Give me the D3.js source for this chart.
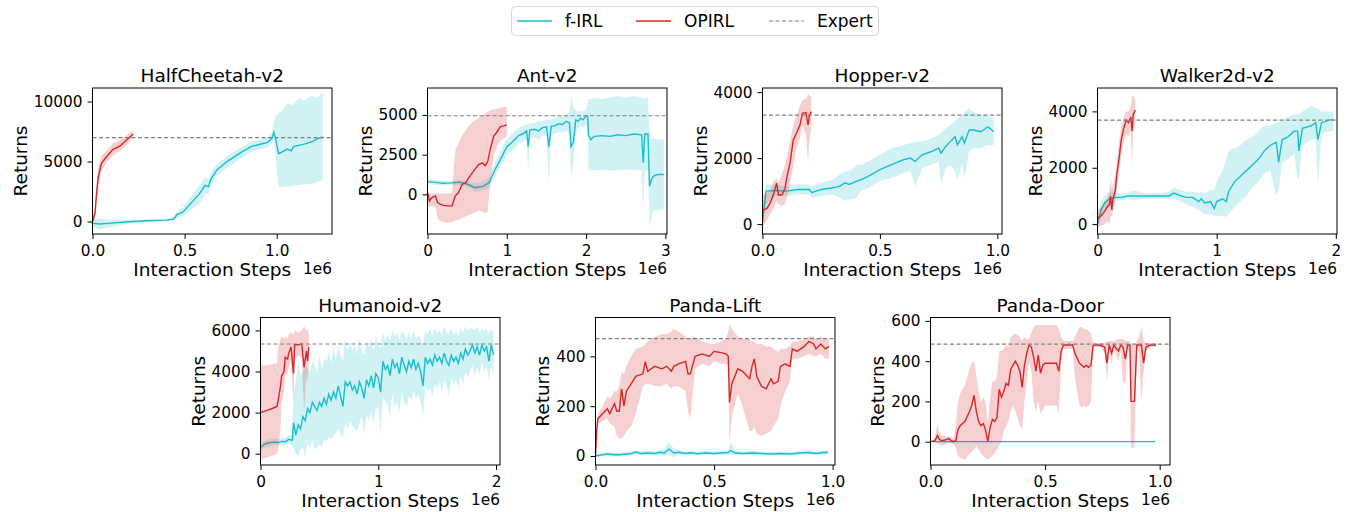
<!DOCTYPE html>
<html>
<head>
<meta charset="utf-8">
<script src="https://cdn.jsdelivr.net/npm/d3@7"></script>
<style>
  body { margin: 0; background: #fff; }
  text { font-family: "DejaVu Sans", sans-serif; fill: #000; }
</style>
</head>
<body>
<script>
// ---- data (x in units of 1e6 interaction steps) ----
const envNames = ["HalfCheetah-v2", "Ant-v2", "Hopper-v2", "Walker2d-v2", "Humanoid-v2", "Panda-Lift", "Panda-Door"];
const expertReturns = [7000, 4950, 3300, 3690, 5340, 471, 485];
const xLimits = [1.30, 3.02, 1.02, 2.01, 2.034, 1.01, 1.045];
const yLimits = [[-1040, 11130], [-2500, 6700], [-300, 4125], [-350, 4830], [-550, 6630], [-36, 556], [-116, 617]];
const xTickValues = [[0, 0.5, 1.0], [0, 1, 2, 3], [0, 0.5, 1.0], [0, 1, 2], [0, 1, 2], [0, 0.5, 1.0], [0, 0.5, 1.0]];
const xTickLabels = [["0.0", "0.5", "1.0"], ["0", "1", "2", "3"], ["0.0", "0.5", "1.0"], ["0", "1", "2"], ["0", "1", "2"], ["0.0", "0.5", "1.0"], ["0.0", "0.5", "1.0"]];
const yTickValues = [[0, 5000, 10000], [0, 2500, 5000], [0, 2000, 4000], [0, 2000, 4000], [0, 2000, 4000, 6000], [0, 200, 400], [0, 200, 400, 600]];

// rows: [step (1e6), mean, lower, upper]
const cheetahFirl = [
  [0, -150, -500, 250], [0.04, -200, -650, 200], [0.1, -130, -450, 150], [0.2, -20, -150, 120],
  [0.3, 60, -50, 160], [0.4, 120, 20, 220], [0.44, 200, 80, 380], [0.46, 600, 300, 900],
  [0.49, 780, 450, 1150], [0.53, 1450, 900, 2000], [0.58, 2300, 1500, 3000], [0.61, 3000, 2300, 3700],
  [0.63, 2900, 2300, 3500], [0.64, 3450, 2900, 4000], [0.675, 4300, 3800, 4800], [0.73, 5000, 4500, 5450],
  [0.8, 5700, 5200, 6100], [0.86, 6250, 5800, 6650], [0.9, 6400, 6000, 6800], [0.95, 6600, 6200, 7050],
  [0.975, 6950, 6500, 7400], [0.984, 7450, 6900, 8300], [0.995, 6850, 5200, 8800], [1.01, 5650, 2850, 9000],
  [1.03, 5800, 2900, 9200], [1.056, 6050, 2950, 9900], [1.08, 5900, 2950, 9700], [1.09, 6250, 3000, 9800],
  [1.12, 6350, 3050, 10300], [1.15, 6450, 3100, 10100], [1.19, 6650, 3150, 10500], [1.22, 6900, 3300, 10300],
  [1.25, 7050, 3450, 10750]
];
const cheetahOpirl = [
  [0, 0, -300, 300], [0.013, 650, 200, 1100], [0.022, 2300, 1500, 3100], [0.031, 3700, 2900, 4500],
  [0.049, 4850, 4200, 5500], [0.076, 5400, 4900, 5900], [0.11, 6000, 5500, 6500], [0.15, 6300, 5900, 6800],
  [0.185, 6800, 6400, 7200], [0.221, 7300, 7000, 7600]
];

const antFirl = [
  [0, 800, 650, 950], [0.1, 750, 600, 900], [0.2, 700, 550, 850], [0.3, 720, 600, 850],
  [0.4, 770, 600, 900], [0.5, 650, 450, 850], [0.6, 420, 200, 700], [0.7, 500, 250, 800],
  [0.78, 750, 400, 1100], [0.85, 1550, 1100, 2000], [0.9, 2000, 1600, 2500], [0.95, 2500, 2000, 3000],
  [1.0, 3000, 2500, 3500], [1.05, 3200, 2700, 3700], [1.1, 3450, 2900, 4000], [1.15, 3700, 3200, 4200],
  [1.2, 3800, 3300, 4300], [1.25, 4000, 3500, 4400], [1.27, 3000, 1400, 4400], [1.29, 4050, 3500, 4500],
  [1.35, 4100, 3600, 4500], [1.4, 4000, 3400, 4600], [1.45, 4200, 3700, 4600], [1.5, 4250, 3700, 4700],
  [1.53, 3000, 700, 4700], [1.56, 4300, 3800, 4700], [1.6, 4300, 3800, 4800], [1.65, 4450, 3900, 4900],
  [1.7, 4400, 3900, 4900], [1.75, 4600, 4000, 5000], [1.79, 4500, 3800, 5200], [1.81, 3000, 1000, 6200],
  [1.84, 3300, 2000, 5500], [1.87, 4700, 4000, 5300], [1.9, 4600, 4100, 5200], [1.93, 4800, 4300, 5300],
  [1.96, 4700, 4200, 5200], [2.0, 4950, 4400, 5400], [2.02, 4900, 4000, 5800], [2.03, 3700, 1500, 6000],
  [2.06, 3450, 1500, 6000], [2.1, 3650, 1500, 6100], [2.2, 3700, 1550, 6000], [2.3, 3650, 1500, 6100],
  [2.4, 3750, 1500, 6200], [2.5, 3700, 1550, 6100], [2.6, 3800, 1550, 6200], [2.7, 3750, 1500, 6100],
  [2.72, 2000, -1200, 6000], [2.74, 3800, 1500, 6100], [2.78, 3800, 1500, 6100], [2.8, 500, -2100, 4000],
  [2.82, 900, -1500, 3500], [2.85, 1150, -1000, 3500], [2.9, 1250, -1000, 3450], [2.95, 1250, -950, 3450],
  [2.98, 1250, -950, 3450]
];
const antOpirl = [
  [0, 100, -700, 150], [0.025, -420, -800, 50], [0.055, -210, -750, 50], [0.1, -100, -800, 50],
  [0.127, -520, -1500, 50], [0.16, -620, -1700, 50], [0.2, -700, -1750, 50], [0.245, -730, -1800, 50],
  [0.31, -730, -1750, 100], [0.33, -400, -1700, 1500], [0.35, -100, -1650, 2800], [0.39, 100, -1600, 3200],
  [0.435, 620, -1500, 3700], [0.48, 730, -1400, 4000], [0.52, 1040, -1300, 4300], [0.58, 1460, -1200, 4600],
  [0.645, 1870, -1000, 4800], [0.69, 1980, -1100, 5000], [0.73, 1810, -1200, 5100], [0.76, 2080, -1100, 5200],
  [0.79, 2810, 800, 5300], [0.835, 3650, 2400, 5350], [0.88, 3960, 3100, 5400], [0.92, 4270, 3400, 5450],
  [0.96, 4310, 3500, 5500], [1.0, 4375, 3600, 5500]
];

const hopperFirl = [
  [0, 50, -100, 400], [0.015, 1000, 600, 1200], [0.05, 1020, 850, 1200], [0.1, 1000, 850, 1150],
  [0.15, 1050, 900, 1200], [0.2, 1050, 900, 1200], [0.21, 950, 800, 1150], [0.25, 1050, 850, 1250],
  [0.3, 1100, 900, 1350], [0.33, 1150, 800, 1500], [0.35, 1250, 700, 1600], [0.37, 1200, 750, 1600],
  [0.4, 1300, 800, 1800], [0.42, 1350, 1000, 1800], [0.45, 1450, 1100, 1900], [0.5, 1650, 1300, 2100],
  [0.55, 1800, 1400, 2300], [0.6, 1950, 1550, 2400], [0.63, 2000, 1600, 2450], [0.65, 1900, 1150, 2500],
  [0.68, 2100, 1700, 2500], [0.72, 2200, 1800, 2600], [0.75, 2300, 1900, 2700], [0.76, 2150, 1200, 2750],
  [0.78, 2350, 1700, 2900], [0.8, 2500, 1800, 3000], [0.82, 2650, 1600, 3100], [0.83, 2400, 1350, 3200],
  [0.85, 2650, 1800, 3300], [0.86, 2450, 1400, 3400], [0.88, 2850, 2200, 3500], [0.9, 2850, 2300, 3400],
  [0.93, 2800, 2300, 3300], [0.96, 2950, 2400, 3300], [0.985, 2800, 2400, 3200]
];
const hopperOpirl = [
  [0, 420, -100, 900], [0.018, 470, 100, 950], [0.032, 630, 300, 1000], [0.046, 880, 450, 1300],
  [0.06, 1240, 700, 1400], [0.068, 880, 600, 1250], [0.082, 880, 550, 1500], [0.096, 1080, 600, 1800],
  [0.103, 1390, 800, 2000], [0.117, 1840, 1200, 2500], [0.131, 2550, 1800, 3000], [0.145, 2760, 2300, 3300],
  [0.16, 3010, 2600, 3600], [0.17, 3360, 3000, 3750], [0.185, 3380, 2700, 3800], [0.194, 3010, 1900, 3950],
  [0.2, 3310, 2500, 3900], [0.208, 3410, 3000, 3850]
];

const walkerFirl = [
  [0, 0, -200, 300], [0.03, 500, 200, 800], [0.06, 750, 500, 1000], [0.1, 900, 700, 1150],
  [0.15, 950, 800, 1100], [0.2, 950, 850, 1100], [0.25, 1000, 900, 1100], [0.3, 1000, 850, 1200],
  [0.4, 1000, 900, 1100], [0.5, 1000, 900, 1100], [0.6, 1000, 900, 1150], [0.64, 1100, 900, 1300],
  [0.7, 1000, 800, 1200], [0.75, 950, 700, 1150], [0.8, 950, 600, 1150], [0.85, 800, 500, 1100],
  [0.87, 900, 450, 1150], [0.9, 750, 350, 1100], [0.95, 800, 350, 1200], [0.98, 550, 300, 1200],
  [1.0, 800, 300, 1500], [1.05, 900, 300, 1900], [1.08, 800, 250, 2300], [1.1, 1150, 350, 2600],
  [1.15, 1500, 600, 2700], [1.2, 1700, 800, 2800], [1.25, 1900, 1000, 3000], [1.3, 2100, 1300, 3100],
  [1.35, 2300, 1500, 3300], [1.4, 2600, 1800, 3500], [1.45, 2800, 1900, 3500], [1.5, 2900, 1000, 3600],
  [1.52, 2200, 1200, 3600], [1.55, 3000, 2200, 3700], [1.6, 3100, 2300, 3800], [1.65, 3300, 2500, 3900],
  [1.68, 3300, 1600, 3900], [1.69, 2600, 1600, 3900], [1.72, 3400, 2800, 4000], [1.8, 3500, 3000, 4200],
  [1.83, 3600, 3000, 4100], [1.85, 3000, 1400, 4100], [1.88, 3600, 3200, 4000], [1.95, 3700, 3300, 4000],
  [1.98, 3700, 3300, 4000]
];
const walkerOpirl = [
  [0, 200, -100, 500], [0.03, 300, -50, 600], [0.06, 450, 0, 800], [0.08, 600, 100, 900],
  [0.1, 700, 0, 1200], [0.11, 1000, 300, 1600], [0.12, 500, 300, 1300], [0.13, 900, 400, 1300],
  [0.15, 1200, 800, 1800], [0.16, 1700, 1200, 2200], [0.17, 2000, 1500, 2500], [0.18, 2300, 1800, 2900],
  [0.2, 3000, 2400, 3500], [0.22, 3400, 2900, 3800], [0.24, 3700, 3200, 4000], [0.26, 3600, 3100, 4000],
  [0.28, 3800, 3300, 4200], [0.29, 3300, 2100, 4500], [0.3, 3900, 3300, 4600], [0.318, 4050, 3500, 4400]
];

const humanoidFirl = [
  [0, 300, 150, 450], [0.03, 450, 300, 600], [0.06, 520, 350, 700], [0.09, 550, 400, 700],
  [0.12, 560, 400, 750], [0.15, 540, 400, 700], [0.18, 600, 450, 750], [0.21, 580, 400, 800],
  [0.24, 700, 500, 900], [0.27, 650, 400, 900], [0.28, 1500, 200, 3000], [0.3, 900, 0, 3500],
  [0.32, 1400, -100, 4500], [0.34, 1200, 200, 3800], [0.36, 1800, 300, 4000], [0.38, 1600, -200, 4200],
  [0.4, 2200, 500, 4200], [0.42, 2000, 300, 4000], [0.44, 2500, 600, 4500], [0.46, 2300, 200, 4300],
  [0.48, 2100, 300, 4000], [0.5, 2500, 500, 4800], [0.52, 2300, 300, 4100], [0.54, 2700, 700, 4600],
  [0.56, 2400, 600, 4500], [0.58, 2900, 800, 5000], [0.6, 2600, 700, 4400], [0.62, 3000, 900, 5200],
  [0.64, 2700, 1000, 4600], [0.66, 3300, 1200, 5300], [0.68, 2800, 900, 4800], [0.7, 2300, 800, 4500],
  [0.72, 3500, 1500, 5600], [0.74, 3300, 1200, 5000], [0.76, 3500, 1600, 5400], [0.78, 3100, 1400, 5000],
  [0.8, 3300, 1200, 5300], [0.82, 2900, 1100, 4800], [0.84, 3500, 1500, 5600], [0.86, 3200, 1800, 5000],
  [0.88, 2700, 1000, 4800], [0.9, 3600, 1900, 5400], [0.92, 3300, 1600, 5200], [0.94, 3800, 2000, 5600],
  [0.96, 3200, 1500, 5000], [0.98, 3900, 2200, 5700], [1.0, 3700, 2300, 5300], [1.02, 3000, 1000, 5100],
  [1.04, 4500, 2800, 5900], [1.06, 4100, 2500, 5500], [1.08, 4300, 2400, 5800], [1.1, 3800, 1800, 5500],
  [1.12, 4600, 2900, 6000], [1.14, 4200, 2200, 5700], [1.16, 4400, 2600, 5900], [1.18, 3900, 2000, 5500],
  [1.2, 4700, 3000, 6000], [1.22, 4300, 2500, 5800], [1.24, 4000, 2300, 5600], [1.26, 4500, 2800, 5900],
  [1.28, 4200, 2600, 5600], [1.3, 4600, 3000, 6000], [1.32, 4100, 2700, 5600], [1.34, 4400, 2900, 5800],
  [1.36, 4000, 2500, 5600], [1.38, 3300, 1800, 5300], [1.4, 4700, 3300, 6000], [1.42, 4400, 3000, 5800],
  [1.44, 4600, 3200, 6100], [1.46, 4300, 2800, 5700], [1.48, 4800, 3400, 6100], [1.5, 4500, 3200, 5900],
  [1.52, 4700, 3500, 6000], [1.54, 4400, 3000, 5800], [1.56, 4900, 3600, 6200], [1.58, 4500, 3300, 5900],
  [1.6, 4300, 2800, 5800], [1.62, 4800, 3700, 6100], [1.64, 4500, 3400, 5800], [1.66, 4700, 3600, 6000],
  [1.68, 4400, 3200, 5700], [1.7, 4900, 3800, 6100], [1.72, 4600, 3400, 5900], [1.74, 5100, 4000, 6200],
  [1.76, 4800, 3700, 6000], [1.78, 5000, 4000, 6100], [1.8, 5300, 4300, 6100], [1.82, 4900, 3800, 6000],
  [1.84, 5200, 4200, 6200], [1.86, 4800, 3900, 5900], [1.88, 5300, 4400, 6100], [1.9, 5000, 4000, 6000],
  [1.92, 5200, 4200, 6100], [1.94, 4500, 3600, 5800], [1.96, 5300, 4300, 6100], [1.98, 4800, 3700, 5900]
];
const humanoidOpirl = [
  [0, 2000, -300, 4300], [0.05, 2100, -200, 4300], [0.1, 2200, -100, 4350], [0.14, 2300, 0, 4400],
  [0.15, 2600, 200, 5200], [0.17, 3300, 1200, 5600], [0.18, 3800, 2500, 5700], [0.2, 4000, 3000, 5600],
  [0.21, 4700, 3800, 5700], [0.23, 4600, 3900, 5600], [0.24, 4900, 4200, 5800], [0.26, 5200, 4500, 5900],
  [0.28, 3900, 2500, 5800], [0.29, 5300, 4500, 6000], [0.32, 5300, 4800, 5900], [0.35, 5350, 4700, 6000],
  [0.37, 4200, 2000, 6200], [0.38, 4600, 3000, 6100], [0.39, 5000, 3800, 6000], [0.4, 4500, 3500, 6100],
  [0.41, 5200, 4500, 5800]
];

const liftFirl = [
  [0, 0, -5, 5], [0.03, 5, 0, 12], [0.05, 8, 0, 18], [0.08, 5, 0, 12], [0.1, 5, 0, 12],
  [0.13, 8, 2, 15], [0.15, 10, 3, 18], [0.17, 16, 8, 25], [0.19, 10, 4, 18], [0.22, 12, 4, 20],
  [0.25, 10, 2, 20], [0.27, 15, 5, 25], [0.29, 12, 0, 30], [0.31, 28, 5, 55], [0.33, 12, -5, 30],
  [0.35, 15, 5, 25], [0.38, 10, 3, 18], [0.4, 13, 5, 22], [0.43, 9, 3, 16], [0.46, 12, 5, 20],
  [0.5, 10, 3, 18], [0.53, 12, 5, 20], [0.56, 14, 5, 25], [0.57, 22, 5, 55], [0.59, 12, 3, 22],
  [0.62, 10, 3, 18], [0.66, 12, 5, 20], [0.7, 10, 3, 18], [0.74, 8, 2, 15], [0.78, 10, 3, 18],
  [0.82, 8, 2, 15], [0.86, 12, 4, 20], [0.9, 14, 5, 24], [0.93, 10, 4, 18], [0.96, 14, 6, 22],
  [0.98, 15, 8, 22]
];
const liftOpirl = [
  [0, 0, 0, 0], [0.005, 100, 80, 120], [0.01, 150, 130, 170], [0.03, 170, 140, 200],
  [0.05, 190, 150, 240], [0.06, 170, 130, 230], [0.08, 210, 120, 260], [0.09, 180, 80, 260],
  [0.1, 180, 70, 280], [0.11, 270, 70, 340], [0.12, 200, 80, 330], [0.13, 260, 100, 360],
  [0.15, 290, 120, 400], [0.17, 320, 170, 430], [0.2, 330, 280, 440], [0.21, 380, 290, 450],
  [0.22, 340, 290, 460], [0.25, 360, 280, 480], [0.28, 350, 280, 490], [0.3, 360, 290, 490],
  [0.32, 340, 270, 500], [0.33, 360, 280, 510], [0.35, 370, 280, 500], [0.38, 380, 260, 480],
  [0.39, 330, 180, 470], [0.4, 330, 150, 470], [0.42, 400, 350, 480], [0.45, 410, 370, 460],
  [0.48, 400, 360, 450], [0.5, 420, 380, 450], [0.53, 415, 370, 460], [0.55, 410, 370, 470],
  [0.56, 400, 360, 500], [0.565, 215, 40, 530], [0.575, 290, 160, 510], [0.6, 350, 250, 480],
  [0.62, 340, 200, 470], [0.65, 310, 100, 470], [0.66, 360, 100, 460], [0.67, 390, 120, 460],
  [0.68, 320, 90, 450], [0.7, 280, 80, 450], [0.72, 270, 90, 440], [0.74, 310, 100, 440],
  [0.75, 290, 120, 430], [0.77, 300, 150, 420], [0.78, 360, 200, 430], [0.8, 370, 260, 430],
  [0.82, 360, 300, 440], [0.83, 430, 390, 460], [0.85, 420, 390, 460], [0.88, 440, 400, 470],
  [0.9, 460, 410, 480], [0.92, 450, 400, 480], [0.93, 430, 400, 470], [0.95, 450, 410, 480],
  [0.97, 430, 390, 470], [0.985, 440, 390, 470]
];

const doorFirl = [[0, 0, 0, 0], [0.5, 0, 0, 0], [0.98, 0, -1, 1]];
const doorOpirl = [
  [0, 0, 0, 0], [0.02, 5, -5, 20], [0.03, 30, -10, 90], [0.04, 10, -15, 40], [0.05, 5, -20, 30],
  [0.07, 10, -10, 25], [0.08, 15, -5, 30], [0.09, 5, -10, 20], [0.1, 0, -10, 15], [0.11, 5, -30, 80],
  [0.12, 60, -70, 200], [0.13, 80, -80, 240], [0.15, 100, -90, 280], [0.17, 150, -60, 360],
  [0.18, 180, -50, 390], [0.19, 230, -40, 400], [0.2, 150, -20, 330], [0.21, 100, -40, 250],
  [0.22, 80, -60, 200], [0.23, 90, -70, 220], [0.24, 60, -80, 200], [0.25, 0, -90, 100],
  [0.26, 70, -80, 220], [0.27, 110, -70, 300], [0.28, 100, -60, 300], [0.29, 120, -40, 320],
  [0.3, 260, -20, 450], [0.31, 220, 0, 450], [0.32, 250, 50, 460], [0.33, 290, 80, 480],
  [0.34, 280, 100, 470], [0.35, 360, 150, 520], [0.36, 380, 180, 530], [0.37, 400, 150, 540],
  [0.38, 380, 120, 530], [0.39, 350, 80, 520], [0.4, 270, 60, 500], [0.41, 380, 200, 520],
  [0.42, 440, 300, 510], [0.43, 480, 400, 510], [0.44, 470, 350, 540], [0.45, 420, 200, 570],
  [0.46, 350, 150, 580], [0.47, 430, 200, 580], [0.48, 340, 140, 580], [0.49, 380, 160, 580],
  [0.5, 390, 180, 580], [0.55, 390, 180, 580], [0.56, 350, 140, 560], [0.57, 450, 380, 520],
  [0.58, 480, 460, 500], [0.6, 480, 460, 500], [0.62, 480, 460, 500], [0.63, 440, 320, 520],
  [0.65, 390, 180, 570], [0.66, 380, 170, 570], [0.67, 370, 180, 560], [0.68, 380, 170, 560],
  [0.69, 370, 180, 550], [0.7, 380, 200, 540], [0.71, 480, 470, 490], [0.74, 480, 470, 490],
  [0.76, 470, 440, 490], [0.77, 390, 300, 500], [0.78, 480, 460, 500], [0.79, 440, 380, 500],
  [0.8, 480, 460, 500], [0.82, 450, 400, 510], [0.83, 480, 450, 510], [0.84, 470, 300, 510],
  [0.85, 410, 280, 500], [0.86, 480, 460, 500], [0.87, 480, 450, 500], [0.875, 200, -30, 480],
  [0.89, 200, -30, 480], [0.9, 480, 460, 500], [0.91, 480, 440, 520], [0.92, 480, 200, 570],
  [0.93, 390, 350, 500], [0.94, 470, 450, 490], [0.96, 480, 470, 490], [0.985, 480, 470, 490]
];

const firlSeries = [cheetahFirl, antFirl, hopperFirl, walkerFirl, humanoidFirl, liftFirl, doorFirl];
const opirlSeries = [cheetahOpirl, antOpirl, hopperOpirl, walkerOpirl, humanoidOpirl, liftOpirl, doorOpirl];
const legendLabels = ["f-IRL", "OPIRL", "Expert"];

// ---- drawing ----
const W = 1349, H = 512;
const cyan = "#17becf", red = "#d62728", grey = "#808080";

// axes boxes (pixels)
const layout = [
  {left: 92.5, top: 88, w: 239.5, h: 146},
  {left: 427.5, top: 88, w: 239.5, h: 146},
  {left: 762.5, top: 88, w: 239.5, h: 146},
  {left: 1097.5, top: 88, w: 239.5, h: 146},
  {left: 260.5, top: 317.5, w: 239.5, h: 147.5},
  {left: 595.5, top: 317.5, w: 239.5, h: 147.5},
  {left: 930.5, top: 317.5, w: 239.5, h: 147.5}
];

const svg = d3.select("body").append("svg")
  .attr("width", W)
  .attr("height", H);

envNames.forEach(function(name, i) {
  const L = layout[i];
  const x = d3.scaleLinear().domain([0, xLimits[i]]).range([0, L.w]);
  const y = d3.scaleLinear().domain(yLimits[i]).range([L.h, 0]);

  const g = svg.append("g").attr("transform", `translate(${L.left},${L.top})`);

  g.append("clipPath").attr("id", "clip" + i)
    .append("rect").attr("width", L.w).attr("height", L.h);
  const plot = g.append("g").attr("clip-path", `url(#clip${i})`);

  const area = d3.area().x(d => x(d[0])).y0(d => y(d[2])).y1(d => y(d[3]));
  const line = d3.line().x(d => x(d[0])).y(d => y(d[1]));

  // f-IRL
  plot.append("path").datum(firlSeries[i]).attr("d", area)
    .attr("fill", cyan).attr("fill-opacity", 0.2);
  plot.append("path").datum(firlSeries[i]).attr("d", line)
    .attr("fill", "none").attr("stroke", cyan).attr("stroke-width", 1.4);
  // OPIRL
  plot.append("path").datum(opirlSeries[i]).attr("d", area)
    .attr("fill", red).attr("fill-opacity", 0.22);
  plot.append("path").datum(opirlSeries[i]).attr("d", line)
    .attr("fill", "none").attr("stroke", red).attr("stroke-width", 1.4);
  // expert
  plot.append("line")
    .attr("x1", 0).attr("x2", L.w)
    .attr("y1", y(expertReturns[i])).attr("y2", y(expertReturns[i]))
    .attr("stroke", grey).attr("stroke-width", 1.2).attr("stroke-dasharray", "4,2.5");

  // axes
  const xa = g.append("g").attr("transform", `translate(0,${L.h})`)
    .call(d3.axisBottom(x).tickValues(xTickValues[i])
      .tickFormat((d, k) => xTickLabels[i][k]).tickSize(5).tickPadding(6));
  const ya = g.append("g")
    .call(d3.axisLeft(y).tickValues(yTickValues[i]).tickFormat(d3.format("d"))
      .tickSize(5).tickPadding(5));
  [xa, ya].forEach(a => {
    a.select(".domain").remove();
    a.selectAll("text").attr("font-size", "15.3px").attr("font-family", "DejaVu Sans").attr("fill", "#000");
    a.selectAll("line").attr("stroke", "#000").attr("stroke-width", 1);
  });

  g.append("rect").attr("width", L.w).attr("height", L.h)
    .attr("fill", "none").attr("stroke", "#000").attr("stroke-width", 1);

  // title
  g.append("text").attr("x", L.w / 2).attr("y", -6)
    .attr("text-anchor", "middle").attr("font-size", "18.5px").text(name);
  // x label + offset
  g.append("text").attr("x", L.w / 2).attr("y", L.h + 42)
    .attr("text-anchor", "middle").attr("font-size", "18.5px").text("Interaction Steps");
  g.append("text").attr("x", L.w).attr("y", L.h + 40)
    .attr("text-anchor", "end").attr("font-size", "15.3px").text("1e6");
  // y label
  const bb = ya.node().getBBox();
  g.append("text")
    .attr("transform", `translate(${bb.x - 7},${L.h / 2}) rotate(-90)`)
    .attr("text-anchor", "middle").attr("font-size", "18.5px").text("Returns");
});

// legend
const lg = svg.append("g");
lg.append("rect").attr("x", 511.5).attr("y", 6.5).attr("width", 367).attr("height", 29).attr("rx", 4)
  .attr("fill", "#fff").attr("stroke", "#d6d6d6").attr("stroke-width", 1);
const legendItems = [
  {x: 517, color: cyan, dash: null},
  {x: 636, color: red, dash: null},
  {x: 769, color: grey, dash: "4,2.5"}
];
legendItems.forEach(function(it, k) {
  lg.append("line").attr("x1", it.x).attr("x2", it.x + 35).attr("y1", 21).attr("y2", 21)
    .attr("stroke", it.color).attr("stroke-width", k === 2 ? 1.2 : 1.6)
    .attr("stroke-dasharray", it.dash);
  lg.append("text").attr("x", it.x + 48).attr("y", 27)
    .attr("font-size", "17px").text(legendLabels[k]);
});
</script>
</body>
</html>
